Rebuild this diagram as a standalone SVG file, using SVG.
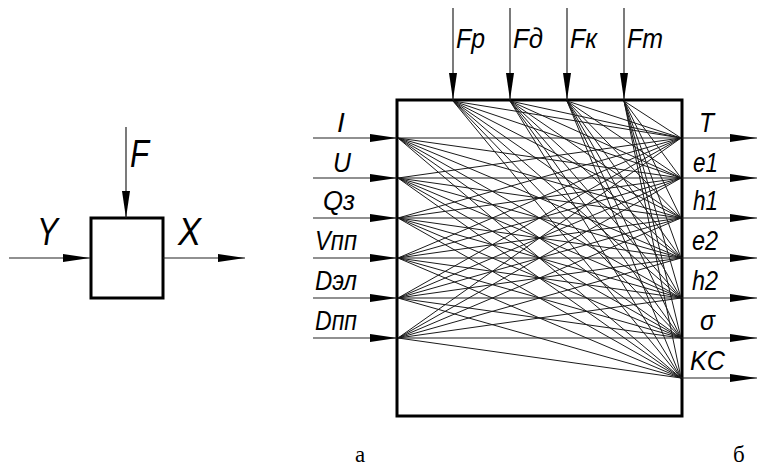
<svg xmlns="http://www.w3.org/2000/svg" width="757" height="469" viewBox="0 0 757 469">
<style>
.box{fill:none;stroke:#000;stroke-width:3}
.arr{fill:none;stroke:#222;stroke-width:1.2}
.fan{fill:none;stroke:#1a1a1a;stroke-width:1}
.lb{font-family:"Liberation Sans",Arial,sans-serif;font-style:italic;fill:#000}
.big{font-size:38px}
.sm{font-size:28px}
.cap{font-family:"Liberation Serif","Times New Roman",serif;font-size:23px;fill:#000}
</style>
<defs>
<marker id="ah" markerUnits="userSpaceOnUse" markerWidth="28" markerHeight="10" refX="27" refY="4.5" orient="auto" viewBox="0 0 28 9">
<path d="M0,0.5 L27,4.5 L0,8.5 Z" fill="#000"/>
</marker>
</defs>
<rect width="757" height="469" fill="#fff"/>

<!-- diagram a -->
<g id="node-a">
<rect class="box" x="91" y="218" width="72" height="80" stroke-width="2.6"/>
</g>
<g id="connectors-a">
<line class="arr" x1="126" y1="127" x2="126" y2="218" marker-end="url(#ah)"/>
<line class="arr" x1="9" y1="258" x2="90" y2="258" marker-end="url(#ah)"/>
<line class="arr" x1="163" y1="258" x2="245" y2="258" marker-end="url(#ah)"/>
</g>
<g id="labels-a">
<text class="lb big" x="130" y="167" textLength="19" lengthAdjust="spacingAndGlyphs">F</text>
<text class="lb big" x="37" y="245" textLength="21" lengthAdjust="spacingAndGlyphs">Y</text>
<text class="lb big" x="178" y="245" textLength="23" lengthAdjust="spacingAndGlyphs">X</text>
</g>

<!-- diagram b -->
<g id="node-b">
<rect class="box" x="397" y="100" width="285" height="316"/>
</g>
<g id="connectors-b">
<g id="inputs">
<line class="arr" x1="313" y1="138" x2="397" y2="138" marker-end="url(#ah)"/>
<line class="arr" x1="313" y1="178" x2="397" y2="178" marker-end="url(#ah)"/>
<line class="arr" x1="313" y1="218" x2="397" y2="218" marker-end="url(#ah)"/>
<line class="arr" x1="313" y1="258" x2="397" y2="258" marker-end="url(#ah)"/>
<line class="arr" x1="313" y1="298" x2="397" y2="298" marker-end="url(#ah)"/>
<line class="arr" x1="313" y1="338" x2="397" y2="338" marker-end="url(#ah)"/>
</g>
<g id="top-inputs">
<line class="arr" x1="453" y1="8" x2="453" y2="100" marker-end="url(#ah)"/>
<line class="arr" x1="510" y1="8" x2="510" y2="100" marker-end="url(#ah)"/>
<line class="arr" x1="567" y1="8" x2="567" y2="100" marker-end="url(#ah)"/>
<line class="arr" x1="624" y1="8" x2="624" y2="100" marker-end="url(#ah)"/>
</g>
<g id="outputs">
<line class="arr" x1="682" y1="138" x2="757" y2="138" marker-end="url(#ah)"/>
<line class="arr" x1="682" y1="178" x2="757" y2="178" marker-end="url(#ah)"/>
<line class="arr" x1="682" y1="218" x2="757" y2="218" marker-end="url(#ah)"/>
<line class="arr" x1="682" y1="258" x2="757" y2="258" marker-end="url(#ah)"/>
<line class="arr" x1="682" y1="298" x2="757" y2="298" marker-end="url(#ah)"/>
<line class="arr" x1="682" y1="338" x2="757" y2="338" marker-end="url(#ah)"/>
<line class="arr" x1="682" y1="378" x2="757" y2="378" marker-end="url(#ah)"/>
</g>
<g id="fan">
<path class="fan" d="M398 138L681 138M398 138L681 178M398 138L681 218M398 138L681 258M398 138L681 298M398 138L681 338M398 138L681 378"/>
<path class="fan" d="M398 178L681 138M398 178L681 178M398 178L681 218M398 178L681 258M398 178L681 298M398 178L681 338M398 178L681 378"/>
<path class="fan" d="M398 218L681 138M398 218L681 178M398 218L681 218M398 218L681 258M398 218L681 298M398 218L681 338M398 218L681 378"/>
<path class="fan" d="M398 258L681 138M398 258L681 178M398 258L681 218M398 258L681 258M398 258L681 298M398 258L681 338M398 258L681 378"/>
<path class="fan" d="M398 298L681 138M398 298L681 178M398 298L681 218M398 298L681 258M398 298L681 298M398 298L681 338M398 298L681 378"/>
<path class="fan" d="M398 338L681 138M398 338L681 178M398 338L681 218M398 338L681 258M398 338L681 298M398 338L681 338M398 338L681 378"/>
<path class="fan" d="M453 101L681 138M453 101L681 178M453 101L681 218M453 101L681 258M453 101L681 298M453 101L681 338M453 101L681 378"/>
<path class="fan" d="M510 101L681 138M510 101L681 178M510 101L681 218M510 101L681 258M510 101L681 298M510 101L681 338M510 101L681 378"/>
<path class="fan" d="M567 101L681 138M567 101L681 178M567 101L681 218M567 101L681 258M567 101L681 298M567 101L681 338M567 101L681 378"/>
<path class="fan" d="M624 101L681 138M624 101L681 178M624 101L681 218M624 101L681 258M624 101L681 298M624 101L681 338M624 101L681 378"/>
</g>
</g>
<g id="labels-b">
<text class="lb sm" x="456" y="48" textLength="29" lengthAdjust="spacingAndGlyphs">Fp</text>
<text class="lb sm" x="513" y="48" textLength="30" lengthAdjust="spacingAndGlyphs">Fд</text>
<text class="lb sm" x="570" y="48" textLength="27" lengthAdjust="spacingAndGlyphs">Fк</text>
<text class="lb sm" x="627" y="48" textLength="36" lengthAdjust="spacingAndGlyphs">Fm</text>
<text class="lb sm" x="337" y="132">I</text>
<text class="lb sm" x="333" y="172" textLength="18" lengthAdjust="spacingAndGlyphs">U</text>
<text class="lb sm" x="323" y="210" textLength="32" lengthAdjust="spacingAndGlyphs">Qз</text>
<text class="lb sm" x="315" y="250" textLength="42" lengthAdjust="spacingAndGlyphs">Vпп</text>
<text class="lb sm" x="315" y="290" textLength="42" lengthAdjust="spacingAndGlyphs">Dэл</text>
<text class="lb sm" x="315" y="330" textLength="42" lengthAdjust="spacingAndGlyphs">Dпп</text>
<text class="lb sm" x="699" y="132" textLength="15" lengthAdjust="spacingAndGlyphs">T</text>
<text class="lb sm" x="693" y="172" textLength="25" lengthAdjust="spacingAndGlyphs">e1</text>
<text class="lb sm" x="693" y="210" textLength="25" lengthAdjust="spacingAndGlyphs">h1</text>
<text class="lb sm" x="692" y="250" textLength="26" lengthAdjust="spacingAndGlyphs">e2</text>
<text class="lb sm" x="692" y="290" textLength="26" lengthAdjust="spacingAndGlyphs">h2</text>
<text class="lb sm" x="700" y="330" textLength="15" lengthAdjust="spacingAndGlyphs">σ</text>
<text class="lb sm" x="690" y="370" textLength="35" lengthAdjust="spacingAndGlyphs">KC</text>
</g>
<g id="captions">
<text class="cap" x="355" y="462">а</text>
<text class="cap" x="733" y="462">б</text>
</g>
</svg>
